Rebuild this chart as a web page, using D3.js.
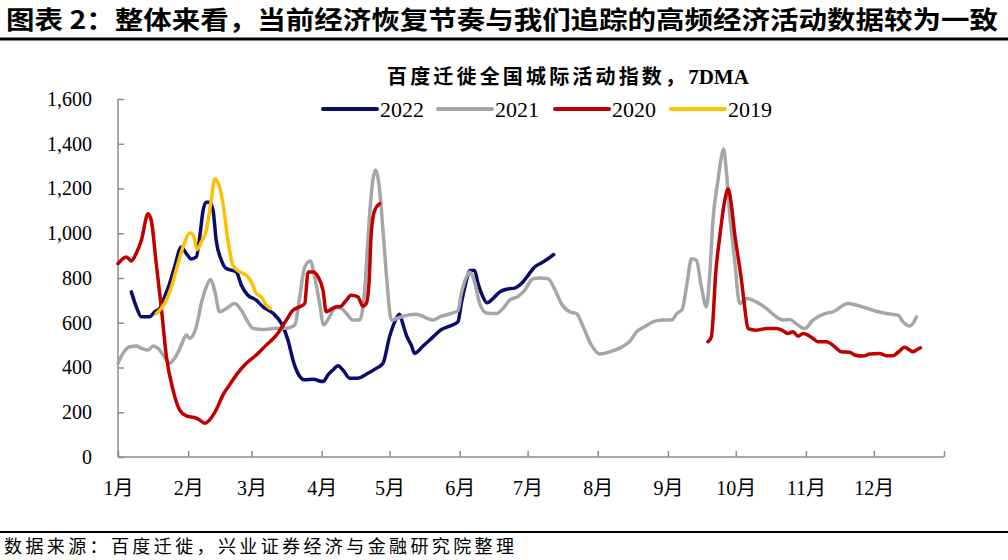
<!DOCTYPE html>
<html>
<head>
<meta charset="utf-8">
<script src="https://cdn.jsdelivr.net/npm/d3@7"></script>
<style>
  body { margin: 0; background: #fff; }
  svg { display: block; }
</style>
</head>
<body>
<svg id="chart"></svg>
<script>
const width = 1008;
const height = 560;

const seriesNames = ["2022", "2021", "2020", "2019"];
const seriesColors = ["#0b0b6b", "#a6a6a6", "#c00000", "#ffc000"];

const monthLabels = ["1月", "2月", "3月", "4月", "5月", "6月", "7月", "8月", "9月", "10月", "11月", "12月"];
const monthStarts = [0, 31, 59, 90, 120, 151, 181, 212, 243, 273, 304, 334, 365];
const yTicks = [0, 200, 400, 600, 800, 1000, 1200, 1400, 1600];

// [day of year, index]
const s2022 = [
  [5.9, 738], [8.1, 671], [10.3, 627], [14, 627], [16.2, 649], [18.4, 664], [20.6, 716], [22.8, 775],
  [25, 849], [28, 939], [30.2, 909], [32.4, 885], [34.6, 894], [36.1, 983], [37.6, 1102], [39, 1139],
  [40.5, 1139], [42, 1102], [43.4, 968], [45.7, 879], [47.9, 842], [50.1, 835], [52.3, 827], [54.5, 768],
  [57.4, 723], [61.1, 701], [64.1, 671], [68.5, 642], [72.2, 597], [75.1, 523], [77.3, 434], [79.5, 374],
  [82.5, 345], [86.2, 347], [90.6, 337], [92.8, 367], [95, 389], [97.2, 408], [99.4, 389], [102.4, 352],
  [106, 352], [109.7, 370], [114.1, 396], [117.1, 419], [120, 538], [123, 619], [124.4, 638], [125.8, 597],
  [127.4, 545], [129.6, 500], [131.1, 463], [134.8, 496], [139.2, 537], [142.9, 570], [146.6, 585],
  [150.2, 604], [151.7, 686], [154, 790], [155.4, 834], [157.6, 834], [159.1, 775], [161.3, 715],
  [163.1, 689], [165.7, 708], [168.7, 738], [171.6, 750], [175.3, 755], [178.3, 775], [181.2, 812],
  [184.1, 849], [187.1, 867], [190, 886], [192.5, 905]
];

const s2021 = [
  [0, 419], [2.2, 463], [5.2, 493], [8.1, 496], [10.3, 486], [13.3, 478], [15.5, 496], [17.7, 486],
  [19.9, 456], [22.8, 419], [25, 441], [28, 500], [30.2, 545], [31.7, 530], [34.6, 582], [36.8, 686],
  [39, 760], [40.9, 793], [42.7, 745], [44.9, 649], [47.9, 664], [51.5, 686], [54.5, 656], [57.4, 604],
  [59.6, 575], [64.1, 570], [70, 575], [74.4, 575], [78.1, 590], [80.3, 716], [82.5, 849], [85, 876],
  [86.9, 805], [89.1, 686], [90.9, 590], [93.5, 627], [95.7, 664], [97.9, 668], [100.9, 642], [103.8, 612],
  [106.8, 612], [109, 745], [110.9, 1042], [112.4, 1221], [113.8, 1283], [115.3, 1221], [117.1, 1013],
  [118.8, 790], [120.8, 612], [124.4, 624], [128, 634], [131.9, 638], [135, 627], [139.2, 612],
  [142.2, 626], [148, 644], [150.2, 653], [151.7, 730], [154, 805], [155.4, 827], [157.6, 782],
  [159.8, 686], [162.8, 644], [167.2, 641], [170.1, 664], [173.1, 701], [176.8, 718], [179.7, 745],
  [183.4, 797], [186.3, 800], [190, 797], [193.2, 745], [195.9, 686], [199.6, 649], [202.6, 641],
  [205.2, 590], [209.2, 500], [212.9, 460], [217.3, 470], [222.4, 490], [226.1, 517], [229.4, 562],
  [232.7, 582], [236.4, 604], [240.8, 612], [244.8, 613], [246.9, 641], [249.3, 660], [251.5, 780],
  [253.4, 886], [255.6, 879], [257.8, 760], [260, 671], [261.5, 820], [262.9, 1057], [265.1, 1235],
  [266.6, 1339], [267.6, 1376], [268.8, 1280], [270.3, 1087], [272.5, 879], [274.7, 686], [277.7, 708],
  [282.1, 693], [286.5, 664], [291, 626], [293.9, 612], [296.8, 615], [299.8, 594], [303.4, 574],
  [307.1, 612], [312.3, 641], [315.9, 649], [322.6, 686], [327.7, 675], [333.6, 656], [339.5, 641],
  [344.7, 634], [346.9, 604], [349.8, 585], [351.3, 597], [352.8, 626]
];

const s2020a = [
  [0, 864], [3.7, 894], [5.9, 876], [8, 909], [10.3, 968], [13.3, 1087], [14.7, 1057], [16.9, 864],
  [19.1, 671], [21.4, 448], [24.3, 300], [27.2, 211], [30.2, 184], [34.6, 174], [36, 166], [38.3, 151],
  [40.5, 166], [43.4, 211], [46.4, 278], [49.3, 322], [52.3, 367], [56.7, 419], [61.1, 456], [65.5, 500],
  [70, 545], [74.4, 612], [77.3, 656], [80.3, 671], [82.5, 686], [84, 827], [86.2, 827], [88.4, 805],
  [90.6, 745], [92, 649], [93.5, 656], [96.5, 671], [97.9, 671], [100.9, 701], [103, 723], [106, 716],
  [108.2, 674], [109.7, 686], [110.9, 775], [111.9, 998], [113.4, 1102], [115.6, 1132]
];

const s2020b = [
  [260.7, 515], [262.2, 537], [262.9, 612], [264, 804], [265.9, 983], [268.1, 1146], [269.6, 1198],
  [271, 1131], [272.5, 998], [274, 894], [275.5, 790], [276.9, 671], [278.4, 574], [282.1, 567],
  [286.5, 574], [291, 574], [293.9, 564], [296, 552], [298.3, 560], [300.5, 540], [302.7, 552],
  [304.9, 545], [307.1, 530], [309.3, 515], [313, 515], [316.7, 493], [319.7, 470], [323.3, 468],
  [325.5, 456], [329.2, 451], [332.2, 460], [336.6, 463], [339.5, 453], [342.5, 453], [344.7, 468],
  [347.6, 490], [349.8, 478], [351.3, 470], [352.8, 478], [354.6, 488]
];

const s2019 = [
  [16.9, 641], [20.6, 686], [23.6, 760], [26.5, 864], [29.5, 961], [31.7, 1001], [33.4, 990], [34.9, 927],
  [36.8, 961], [39, 1013], [41.2, 1146], [42.7, 1243], [44.2, 1228], [46.4, 1132], [48.6, 968],
  [50.8, 857], [53.8, 827], [56.7, 812], [58.9, 783], [61.1, 731], [63.3, 716], [65.5, 679], [67.3, 664]
];

const svg = d3.select("#chart").attr("width", width).attr("height", height);

const xScale = d3.scaleLinear().domain([0, 365]).range([118, 944]);
const yScale = d3.scaleLinear().domain([0, 1600]).range([457, 99]);

// title
svg.append("text")
   .attr("x", 6).attr("y", 29)
   .attr("font-family", "'Noto Sans CJK SC', sans-serif")
   .attr("font-weight", "bold")
   .attr("font-size", 25)
   .attr("textLength", 992)
   .attr("lengthAdjust", "spacingAndGlyphs")
   .attr("fill", "#000")
   .text("图表 2：整体来看，当前经济恢复节奏与我们追踪的高频经济活动数据较为一致");

svg.append("line")
   .attr("x1", 0).attr("x2", width).attr("y1", 39).attr("y2", 39)
   .attr("stroke", "#000").attr("stroke-width", 3);

// chart subtitle
const sub = svg.append("text")
   .attr("x", 387).attr("y", 84)
   .attr("font-weight", "bold")
   .attr("font-size", 20)
   .attr("fill", "#000");
sub.append("tspan")
   .attr("font-family", "'Noto Sans CJK SC', sans-serif")
   .attr("textLength", 298)
   .text("百度迁徙全国城际活动指数，");
sub.append("tspan")
   .attr("font-family", "'Liberation Serif', serif")
   .attr("font-size", 21)
   .text("7DMA");

// axes
const yAxis = d3.axisLeft(yScale)
                .tickValues(yTicks)
                .tickSize(-6)
                .tickPadding(26)
                .tickFormat(d3.format(","));

const gy = svg.append("g")
   .attr("transform", "translate(" + xScale(0) + ",0)")
   .call(yAxis);

const xAxis = d3.axisBottom(xScale)
                .tickValues(monthStarts)
                .tickSize(-6)
                .tickPadding(24)
                .tickFormat((d, i) => monthLabels[i] || "");

const gx = svg.append("g")
   .attr("transform", "translate(0," + yScale(0) + ")")
   .call(xAxis);

[gx, gy].forEach(g => {
    g.select(".domain").attr("stroke", "#8c8c8c").attr("stroke-width", 1.5);
    g.selectAll(".tick line").attr("stroke", "#8c8c8c").attr("stroke-width", 1.5);
    g.selectAll("text")
     .attr("fill", "#000")
     .attr("font-size", 20)
     .attr("font-family", "'Liberation Serif', 'Noto Sans CJK SC', serif");
});
gy.select(".domain").attr("d", "M0," + yScale(1600) + "V" + yScale(0));
gx.select(".domain").attr("d", "M" + xScale(0) + ",0H" + xScale(365));

// lines
const line = d3.line()
               .x(d => xScale(d[0]))
               .y(d => yScale(d[1]))
               .curve(d3.curveMonotoneX);

const plots = [
    { data: s2022, color: seriesColors[0] },
    { data: s2021, color: seriesColors[1] },
    { data: s2020a, color: seriesColors[2] },
    { data: s2020b, color: seriesColors[2] },
    { data: s2019, color: seriesColors[3] }
];

plots.forEach(p => {
    svg.append("path")
       .datum(p.data)
       .attr("d", line)
       .attr("fill", "none")
       .attr("stroke", p.color)
       .attr("stroke-width", 3.5)
       .attr("stroke-linejoin", "round")
       .attr("stroke-linecap", "round");
});

// legend
const legendX = [323, 438, 555, 671];
seriesNames.forEach((name, i) => {
    const g = svg.append("g").attr("transform", "translate(" + legendX[i] + ",109)");
    g.append("line")
     .attr("x1", 0).attr("x2", 54)
     .attr("stroke", seriesColors[i])
     .attr("stroke-width", 4)
     .attr("stroke-linecap", "round");
    g.append("text")
     .attr("x", 57).attr("y", 8)
     .attr("font-family", "'Liberation Serif', serif")
     .attr("font-size", 22)
     .attr("fill", "#000")
     .text(name);
});

// footer
svg.append("line")
   .attr("x1", 0).attr("x2", width).attr("y1", 532).attr("y2", 532)
   .attr("stroke", "#000").attr("stroke-width", 2);

svg.append("text")
   .attr("x", 4).attr("y", 553)
   .attr("font-family", "'Noto Sans CJK SC', sans-serif")
   .attr("font-size", 18)
   .attr("textLength", 510)
   .attr("fill", "#000")
   .text("数据来源：百度迁徙，兴业证券经济与金融研究院整理");
</script>
</body>
</html>
